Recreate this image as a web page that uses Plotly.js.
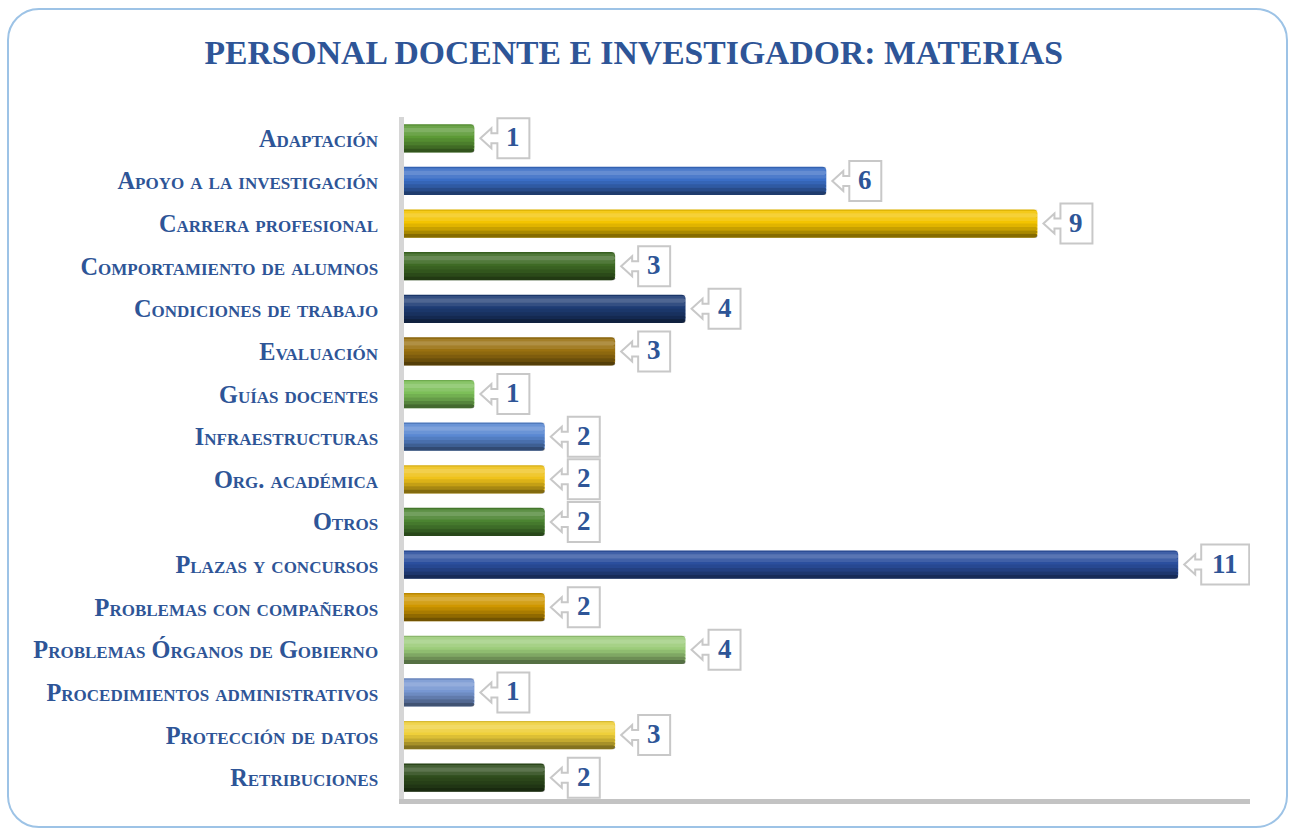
<!DOCTYPE html>
<html><head><meta charset="utf-8">
<script src="https://cdn.plot.ly/plotly-3.0.1.min.js"></script>
<style>
html,body{margin:0;padding:0;background:#fff;}
#frame{position:absolute;left:7px;top:8px;width:1281px;height:820px;border:2px solid #9dc3e6;border-radius:32px;box-sizing:border-box;}
#chart{position:absolute;left:0;top:0;width:1296px;height:834px;}
</style></head><body>
<div id="frame"></div>
<div id="chart"></div>
<script>
const categories = ["Adaptación","Apoyo a la investigación","Carrera profesional","Comportamiento de alumnos","Condiciones de trabajo","Evaluación","Guías docentes","Infraestructuras","Org. académica","Otros","Plazas y concursos","Problemas con compañeros","Problemas Órganos de Gobierno","Procedimientos administrativos","Protección de datos","Retribuciones"];
const values = [1,6,9,3,4,3,1,2,2,2,11,2,4,1,3,2];
const barColors = ["#5c9a36","#3a6ec6","#f3c400","#3e6a24","#1e3c74","#9a7110","#7cbf58","#5a88d2","#efc21a","#4b8431","#2b4f9e","#cf9700","#9ccc7a","#7797d2","#efd03a","#2f4d1d"];

const txtColor = "#2e5597";
const serif = "Liberation Serif, DejaVu Serif, serif";

const bands = [
  {off:-0.33, w:0.66, color:null},
  {off:-0.33, w:0.03, color:"rgba(0,0,0,0.10)"},
  {off:-0.30, w:0.06, color:"rgba(255,255,255,0.10)"},
  {off:-0.24, w:0.10, color:"rgba(255,255,255,0.22)"},
  {off:-0.14, w:0.08, color:"rgba(255,255,255,0.10)"},
  {off:0.00, w:0.08, color:"rgba(0,0,0,0.08)"},
  {off:0.08, w:0.08, color:"rgba(0,0,0,0.18)"},
  {off:0.16, w:0.08, color:"rgba(0,0,0,0.30)"},
  {off:0.24, w:0.09, color:"rgba(0,0,0,0.45)"}
];
const traces = bands.map(b => ({
  type:"bar", orientation:"h", y:categories, x:values,
  width:b.w, offset:b.off,
  marker:{color: b.color || barColors, line:{width:0}, cornerradius:4},
  hoverinfo:"skip", showlegend:false
}));

const shapes = [];
const annotations = [];
categories.forEach((c,i) => {
  const lbl = String(values[i]);
  const bw = lbl.length > 1 ? 48 : 32;
  const bx = 23, tip = 6, head = 17;
  const path = `M ${tip},0 L ${head},10 L ${head},5 L ${bx},5 L ${bx},20 L ${bx+bw},20 L ${bx+bw},-20 L ${bx},-20 L ${bx},-5 L ${head},-5 L ${head},-10 Z`;
  shapes.push({type:"path", xref:"x", yref:"y", xsizemode:"pixel", ysizemode:"pixel",
    xanchor:values[i], yanchor:i, path:path, fillcolor:"#ffffff",
    line:{color:"#c8c8c8", width:2}, layer:"above"});
  annotations.push({x:values[i], y:c, xref:"x", yref:"y", xanchor:"center", yanchor:"middle",
    xshift:bx + bw/2, yshift:1, showarrow:false, text:lbl,
    font:{family:serif, size:27, color:txtColor, weight:"bold"}});
});

const layout = {
  width:1296, height:834,
  margin:{l:404, r:46, t:117, b:35},
  paper_bgcolor:"rgba(0,0,0,0)", plot_bgcolor:"rgba(0,0,0,0)",
  barmode:"overlay",
  title:{text:"PERSONAL DOCENTE E INVESTIGADOR: MATERIAS", x:0.489, xanchor:"center", y:0.937, yanchor:"middle",
    font:{family:serif, size:33.7, color:txtColor, weight:"bold"}},
  xaxis:{range:[0,12.02], showgrid:false, zeroline:false, showticklabels:false, ticks:"",
    showline:true, linecolor:"#c3c3c3", linewidth:5},
  yaxis:{type:"category", autorange:"reversed", showgrid:false, zeroline:false, ticks:"",
    showline:true, linecolor:"#d6d6d6", linewidth:5, ticklabelstandoff:16,
    tickfont:{family:serif, size:24.3, color:txtColor, weight:"bold", variant:"small-caps"}},
  shapes:shapes,
  annotations:annotations
};
Plotly.newPlot("chart", traces, layout, {displayModeBar:false, staticPlot:true});
</script>
</body></html>
